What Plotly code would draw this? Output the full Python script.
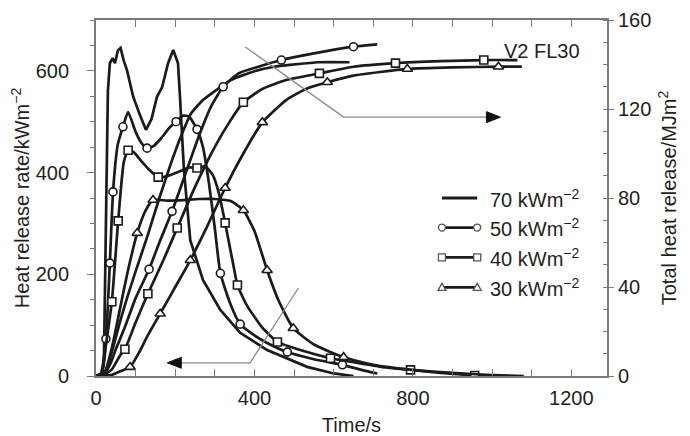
import plotly.graph_objects as go

# ---------------- data ----------------
# Heat release rate (kW/m2) vs time (s)
hrr70_t = [0, 15, 20, 25, 30, 35, 42, 48, 55, 62, 70, 78, 94, 110, 126, 140, 154, 167, 182, 195, 207, 212, 217, 222, 238, 270, 314, 364, 432, 533, 600, 650]
hrr70_v = [0, 5, 30, 300, 560, 615, 625, 615, 640, 645, 620, 602, 549, 515, 484, 505, 549, 568, 615, 641, 615, 549, 484, 405, 267, 189, 130, 85, 51, 18, 5, 0]

hrr50_t = [0, 12, 25, 35, 43, 55, 68, 81, 100, 115, 129, 145, 165, 185, 202, 220, 235, 255, 270, 285, 300, 314, 340, 364, 400, 432, 483, 550, 622, 680, 710]
hrr50_v = [0, 5, 73, 222, 362, 455, 490, 519, 480, 458, 448, 452, 468, 488, 500, 512, 510, 485, 450, 380, 290, 202, 140, 102, 80, 65, 47, 33, 22, 10, 5]
hrr50_mk = [2, 3, 4, 6, 10, 14, 17, 21, 23, 26, 28]

hrr40_t = [0, 15, 25, 40, 56, 70, 81, 95, 115, 135, 157, 180, 210, 235, 255, 276, 295, 310, 326, 345, 357, 380, 420, 458, 520, 592, 650, 720, 794, 870, 956, 990]
hrr40_v = [0, 5, 60, 146, 305, 420, 444, 440, 422, 405, 391, 393, 402, 410, 409, 412, 395, 360, 301, 225, 179, 140, 95, 67, 50, 35, 27, 18, 12, 6, 1, 0]
hrr40_mk = [3, 4, 6, 10, 14, 18, 20, 23, 25, 28, 30]

hrr30_t = [0, 20, 40, 60, 80, 104, 125, 144, 180, 220, 260, 300, 340, 372, 400, 432, 460, 498, 550, 625, 700, 800, 900, 1000, 1080]
hrr30_v = [0, 3, 55, 130, 205, 281, 325, 346, 345, 346, 348, 348, 344, 326, 285, 208, 150, 94, 62, 37, 22, 12, 6, 2, 0]
hrr30_mk = [5, 7, 13, 15, 17, 19]

# Total heat release (MJ/m2) vs time (s)
thr70_t = [0, 20, 30, 45, 60, 80, 100, 130, 160, 190, 215, 240, 270, 300, 340, 400, 450, 500, 560, 640]
thr70_v = [0, 1, 5, 14, 24, 36, 47, 63, 80, 96, 108, 118, 124, 128, 133, 137, 139, 140, 141, 141]

thr50_t = [0, 20, 35, 50, 73, 100, 134, 160, 192, 230, 260, 290, 321, 360, 410, 468, 550, 650, 710]
thr50_v = [0, 1, 5, 12, 22, 35, 48, 60, 74, 93, 108, 121, 130, 136, 139, 142, 145, 148, 149]
thr50_mk = [6, 8, 12, 15, 17]

thr40_t = [0, 20, 40, 60, 73, 100, 131, 170, 205, 250, 300, 340, 372, 420, 480, 564, 650, 756, 870, 979, 1064]
thr40_v = [0, 0.5, 3, 9, 12, 24, 37, 52, 66.5, 85, 103, 115, 123, 129, 133, 136, 139, 140.6, 141.5, 142, 142]
thr40_mk = [4, 6, 8, 12, 15, 17, 19]

thr30_t = [0, 40, 60, 86, 110, 130, 162, 200, 238, 280, 326, 372, 420, 480, 530, 584, 650, 786, 900, 1016, 1075]
thr30_v = [0, 0.5, 2, 4, 11, 18, 28, 40, 52, 67, 84.5, 100, 114, 124, 129, 132, 135, 138, 138.7, 139, 139]
thr30_mk = [3, 6, 8, 10, 12, 15, 17, 19]

legend_labels = ["70 kWm<sup>\u22122</sup>", "50 kWm<sup>\u22122</sup>",
                 "40 kWm<sup>\u22122</sup>", "30 kWm<sup>\u22122</sup>"]
x_ticks = [0, 400, 800, 1200]
y_ticks = [0, 200, 400, 600]
y2_ticks = [0, 40, 80, 120, 160]

# ---------------- style ----------------
LINE = "#1b1b1b"
TXT = "#231f20"
AX = "#7a7a7a"
FONT = "Liberation Sans, Arial, sans-serif"
FS = 20

fig = go.Figure()


def add_series(t, v, yaxis, mk=None, symbol="circle", size=8, shape="spline"):
    fig.add_trace(go.Scatter(x=t, y=v, mode="lines", yaxis=yaxis,
                             line=dict(color=LINE, width=2.7, shape=shape, smoothing=0.5),
                             showlegend=False, hoverinfo="skip"))
    if mk:
        fig.add_trace(go.Scatter(x=[t[i] for i in mk], y=[v[i] for i in mk], mode="markers",
                                 yaxis=yaxis, showlegend=False, hoverinfo="skip",
                                 marker=dict(symbol=symbol, size=size, color="white",
                                             line=dict(color=LINE, width=1.6))))


add_series(hrr70_t, hrr70_v, "y", shape="linear")
add_series(hrr50_t, hrr50_v, "y", hrr50_mk, "circle", 8)
add_series(hrr40_t, hrr40_v, "y", hrr40_mk, "square", 8)
add_series(hrr30_t, hrr30_v, "y", hrr30_mk, "triangle-up", 9)
add_series(thr70_t, thr70_v, "y2")
add_series(thr50_t, thr50_v, "y2", thr50_mk, "circle", 8)
add_series(thr40_t, thr40_v, "y2", thr40_mk, "square", 8)
add_series(thr30_t, thr30_v, "y2", thr30_mk, "triangle-up", 9)

shapes = []
annotations = []

# guide arrows (in data coordinates of the left axis)
arrow_r = dict(x=[377, 625, 1010], y=[647, 509, 509], tip=(1021, 509), dirn=1)
arrow_l = dict(x=[511, 389, 190], y=[173, 26, 26], tip=(180, 26), dirn=-1)
for a in (arrow_r, arrow_l):
    path = "M %g,%g L %g,%g L %g,%g" % (a["x"][0], a["y"][0], a["x"][1], a["y"][1], a["x"][2], a["y"][2])
    shapes.append(dict(type="path", path=path, xref="x", yref="y",
                       line=dict(color="#8a8a8a", width=1.3)))
    d = a["dirn"]
    shapes.append(dict(type="path", xref="x", yref="y", xsizemode="pixel", ysizemode="pixel",
                       xanchor=a["tip"][0], yanchor=a["tip"][1],
                       path="M 0,0 L %d,5.5 L %d,-5.5 Z" % (-14 * d, -14 * d),
                       fillcolor="#111", line=dict(color="#111", width=1)))

# manual legend
leg_x0, leg_x1 = 0.677, 0.746
leg_rows = [0.50, 0.417, 0.333, 0.249]
leg_sym = [None, "circle", "square", "triangle"]
for lab, yy, sym in zip(legend_labels, leg_rows, leg_sym):
    shapes.append(dict(type="line", xref="paper", yref="paper", x0=leg_x0, x1=leg_x1, y0=yy, y1=yy,
                       line=dict(color=LINE, width=2.8)))
    for xx in (leg_x0, leg_x1):
        if sym == "circle":
            shapes.append(dict(type="circle", xref="paper", yref="paper", xsizemode="pixel", ysizemode="pixel",
                               xanchor=xx, yanchor=yy, x0=-3.5, x1=3.5, y0=-3.5, y1=3.5,
                               fillcolor="white", line=dict(color="#555", width=1.3)))
        elif sym == "square":
            shapes.append(dict(type="rect", xref="paper", yref="paper", xsizemode="pixel", ysizemode="pixel",
                               xanchor=xx, yanchor=yy, x0=-3.5, x1=3.5, y0=-3.5, y1=3.5,
                               fillcolor="white", line=dict(color="#555", width=1.3)))
        elif sym == "triangle":
            shapes.append(dict(type="path", xref="paper", yref="paper", xsizemode="pixel", ysizemode="pixel",
                               xanchor=xx, yanchor=yy, path="M -4,-3 L 4,-3 L 0,4 Z",
                               fillcolor="white", line=dict(color="#555", width=1.3)))
    annotations.append(dict(text=lab, xref="paper", yref="paper", x=0.768, y=yy, xanchor="left",
                            yanchor="middle", showarrow=False, font=dict(family=FONT, size=FS, color=TXT)))

annotations.append(dict(text="V2 FL30", xref="paper", yref="paper", x=0.872, y=0.912,
                        xanchor="center", yanchor="middle", showarrow=False,
                        font=dict(family=FONT, size=FS, color=TXT)))

# The page body has an 8px margin, so the figure is sized and offset to fit the 690x436 window.
fig.update_layout(
    width=682, height=428,
    margin=dict(l=88, r=83, t=12, b=60, autoexpand=False),
    paper_bgcolor="white", plot_bgcolor="white",
    font=dict(family=FONT, size=FS, color=TXT),
    showlegend=False,
    shapes=shapes, annotations=annotations,
    xaxis=dict(range=[0, 1290], tickvals=x_ticks, ticks="inside", ticklen=7, tickwidth=1.3,
               tickcolor=AX, showline=True, linecolor=AX, linewidth=1.8, mirror="allticks",
               showgrid=False, zeroline=False, automargin=False, ticklabelstandoff=3,
               minor=dict(dtick=100, tick0=0, ticks="inside", ticklen=5, tickcolor=AX, tickwidth=1.2),
               title=dict(text="Time/s", standoff=10, font=dict(family=FONT, size=FS, color=TXT))),
    yaxis=dict(range=[0, 700], tickvals=y_ticks, ticks="outside", ticklen=7, tickwidth=1.3,
               tickcolor=AX, showline=True, linecolor=AX, linewidth=1.8, mirror=False,
               showgrid=False, zeroline=False, automargin=False, ticklabelstandoff=14,
               minor=dict(dtick=50, tick0=0, ticks="outside", ticklen=4, tickcolor=AX, tickwidth=1.2),
               title=dict(text="Heat release rate/kWm<sup>\u22122</sup>", standoff=4,
                          font=dict(family=FONT, size=FS, color=TXT))),
    yaxis2=dict(range=[0, 160], tickvals=y2_ticks, overlaying="y", side="right", ticks="outside",
                ticklen=5, tickwidth=1.3, tickcolor=AX, showline=True, linecolor=AX, linewidth=1.8,
                showgrid=False, zeroline=False, automargin=False, ticklabelstandoff=0,
                minor=dict(dtick=10, tick0=0, ticks="inside", ticklen=4, tickcolor=AX, tickwidth=1.2),
                title=dict(text="Total heat release/MJm<sup>2</sup>", standoff=12,
                           font=dict(family=FONT, size=FS, color=TXT))),
)

fig.write_html("out.html")
